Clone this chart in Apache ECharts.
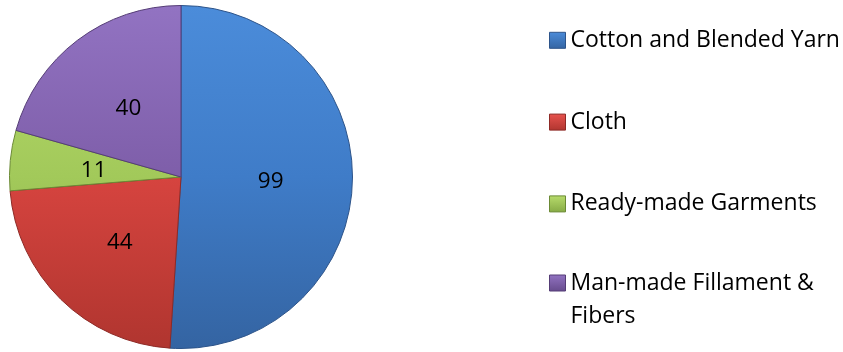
<!DOCTYPE html>
<html>
<head>
<meta charset="utf-8">
<script src="https://cdn.jsdelivr.net/npm/echarts@6/dist/echarts.min.js"></script>
<style>
html,body{margin:0;padding:0;background:#fff;}
#chart{width:843px;height:352px;}
</style>
</head>
<body>
<div id="chart"></div>
<script>
const categories = ["Cotton and Blended Yarn", "Cloth", "Ready-made Garments", "Man-made Fillament & Fibers"];
const values = [99, 44, 11, 40];
const legendLabels = ["Cotton and Blended Yarn", "Cloth", "Ready-made Garments", "\nMan-made Fillament &\nFibers"];
const palette = [
  {top: "#4b8cda", mid: "#3f7cc8", bot: "#3464a2", edge: "#2d548a"},
  {top: "#e8534e", mid: "#d6443f", bot: "#b0352f", edge: "#8e2a26"},
  {top: "#b8dc6c", mid: "#a2c95a", bot: "#86aa45", edge: "#6b8a35"},
  {top: "#9273c2", mid: "#7e5ea9", bot: "#664b8c", edge: "#553d76"}
];

const FONT = "'Open Sans', 'DejaVu Sans', sans-serif";
const CX = 181, CY = 177, R = 171.5;

function sliceColor(p) {
  return {
    type: 'linear', x: 0, y: CY - R, x2: 0, y2: CY + R, global: true,
    colorStops: [
      {offset: 0, color: p.top},
      {offset: 0.5, color: p.mid},
      {offset: 1, color: p.bot}
    ]
  };
}
function iconColor(p) {
  return {
    type: 'linear', x: 0, y: 0, x2: 0, y2: 1,
    colorStops: [
      {offset: 0, color: p.top},
      {offset: 1, color: p.bot}
    ]
  };
}

const seriesData = categories.map((name, i) => ({
  name: name,
  value: values[i],
  itemStyle: {color: sliceColor(palette[i]), borderColor: palette[i].edge, borderWidth: 1}
}));

const legendData = categories.map((name, i) => ({
  name: name,
  itemStyle: {color: iconColor(palette[i]), borderColor: palette[i].edge, borderWidth: 1}
}));

function legendBase(items, top, lineHeight) {
  return {
    orient: 'vertical',
    left: 549,
    top: top,
    width: 290,
    height: 1000,
    padding: 0,
    itemWidth: 16,
    itemHeight: 16,
    itemGap: 49.8,
    icon: 'rect',
    selectedMode: false,
    data: items,
    formatter: function (name) {
      return legendLabels[categories.indexOf(name)];
    },
    textStyle: {
      fontFamily: FONT,
      fontSize: 23,
      color: '#000000',
      lineHeight: lineHeight
    }
  };
}

const chart = echarts.init(document.getElementById('chart'), null, {renderer: 'canvas'});
chart.setOption({
  animation: false,
  backgroundColor: '#ffffff',
  legend: [
    legendBase(legendData.slice(0, 3), 24.3, 32),
    legendBase(legendData.slice(3), 233.5, 33)
  ],
  series: [{
    type: 'pie',
    center: [CX, CY],
    radius: [0, R],
    startAngle: 90,
    clockwise: true,
    silent: true,
    label: {
      show: true,
      position: 'inside',
      formatter: '{c}',
      fontFamily: FONT,
      fontSize: 22.5,
      color: '#000000',
      offset: [1, 2]
    },
    labelLine: {show: false},
    data: seriesData
  }]
});
</script>
</body>
</html>
